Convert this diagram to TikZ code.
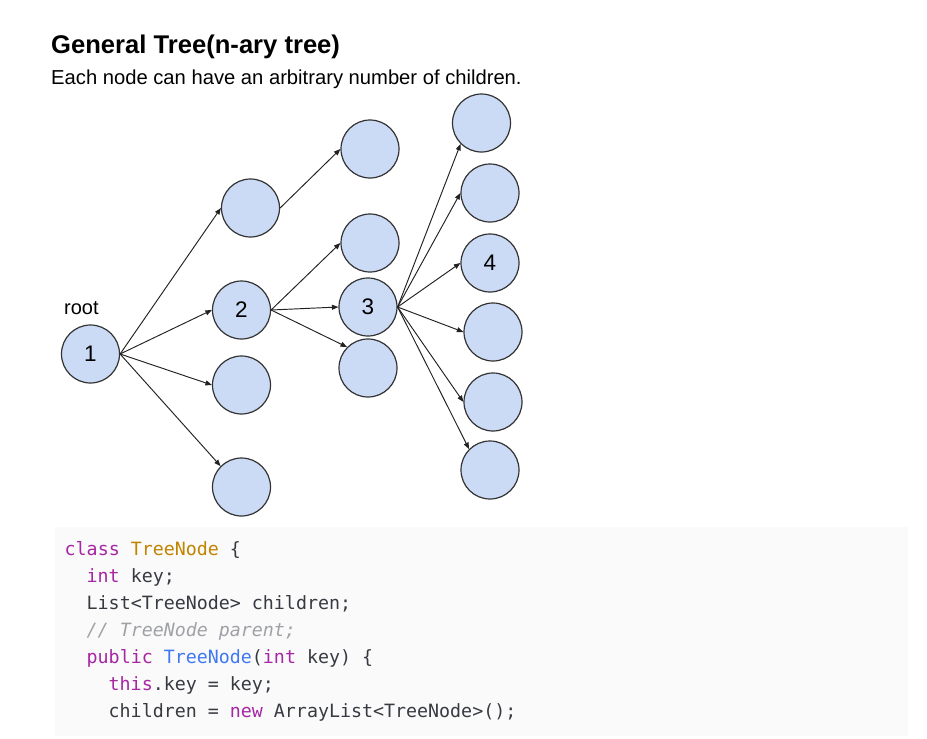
\documentclass[tikz,border=0pt]{standalone}
\usepackage{fontspec}
\setmainfont{Liberation Sans}
\newfontfamily\codefont{DejaVu Sans Mono}
\usetikzlibrary{arrows.meta}
\definecolor{nodefill}{HTML}{CCDBF5}
\definecolor{nodeline}{HTML}{333333}
\definecolor{edgecol}{HTML}{222222}
\definecolor{codebg}{HTML}{FAFAFA}
\definecolor{kw}{HTML}{A626A4}
\definecolor{cls}{HTML}{C18401}
\definecolor{fn}{HTML}{4078F2}
\definecolor{cmt}{HTML}{A0A1A7}
\definecolor{plain}{HTML}{383A42}
\tikzset{
  treenode/.style={circle, draw=nodeline, fill=nodefill, line width=1.2pt,
    minimum size=58pt, inner sep=0pt, font=\fontsize{22.5}{26}\selectfont},
  edge/.style={draw=edgecol, line width=0.95pt, -{Triangle[length=6.5pt,width=5pt]}},
  codeline/.style={anchor=base west, inner sep=0pt, text=plain,
    font=\codefont\fontsize{18.3}{22}\selectfont},
  txt/.style={anchor=base west, inner sep=0pt}
}
\begin{document}
\begin{tikzpicture}[x=1pt,y=-1pt]
\useasboundingbox (0,0) rectangle (927,739);
% title
\node[txt, font=\bfseries\fontsize{25.6}{30}\selectfont] (title) at (51,53) {General Tree(n-ary tree)};
\node[txt, font=\fontsize{20.2}{24}\selectfont] (subtitle) at (51,84) {Each node can have an arbitrary number of children.};
\node[txt, font=\fontsize{20}{24}\selectfont] (rootlbl) at (64,314) {root};
% tree nodes
\node[treenode] (n1) at (90.5,354) {1};
\node[treenode] (a1) at (250.5,208) {};
\node[treenode] (n2) at (241.5,310) {2};
\node[treenode] (a3) at (241.5,385) {};
\node[treenode] (a4) at (241.5,487) {};
\node[treenode] (b1) at (370,149) {};
\node[treenode] (b2) at (370,243) {};
\node[treenode] (n3) at (368,307) {3};
\node[treenode] (b4) at (368,368) {};
\node[treenode] (c1) at (481.5,123) {};
\node[treenode] (c2) at (490,193) {};
\node[treenode] (n4) at (490,263) {4};
\node[treenode] (c4) at (493,332) {};
\node[treenode] (c5) at (493,402) {};
\node[treenode] (c6) at (490,470) {};
% edges
\draw[edge] (n1.east) -- (a1.west);
\draw[edge] (n1.east) -- (n2.west);
\draw[edge] (n1.east) -- (a3.west);
\draw[edge] (n1.east) -- (a4.north west);
\draw[edge] (a1.east) -- (b1.west);
\draw[edge] (n2.east) -- (b2.west);
\draw[edge] (n2.east) -- (n3.west);
\draw[edge] (n2.east) -- (b4.north west);
\draw[edge] (n3.east) -- (c1.south west);
\draw[edge] (n3.east) -- (c2.west);
\draw[edge] (n3.east) -- (n4.west);
\draw[edge] (n3.east) -- (c4.west);
\draw[edge] (n3.east) -- (c5.west);
\draw[edge] (n3.east) -- (c6.north west);
% code block
\node[fill=codebg, draw=none, minimum width=853pt, minimum height=209pt, inner sep=0pt, anchor=north west] (codebox) at (55,527) {};
\node[codeline] (l1) at (64.5,555.5) {\textcolor{kw}{class} \textcolor{cls}{TreeNode} \{};
\node[codeline] (l2) at (86.5,582.5) {\textcolor{kw}{int} key;};
\node[codeline] (l3) at (86.5,609.5) {List<TreeNode> children;};
\node[codeline] (l4) at (86.5,636.5) {\textcolor{cmt}{\itshape // TreeNode parent;}};
\node[codeline] (l5) at (86.5,663.5) {\textcolor{kw}{public} \textcolor{fn}{TreeNode}(\textcolor{kw}{int} key) \{};
\node[codeline] (l6) at (108.5,690.5) {\textcolor{kw}{this}.key = key;};
\node[codeline] (l7) at (108.5,717.5) {children = \textcolor{kw}{new} ArrayList<TreeNode>();};
\end{tikzpicture}
\end{document}
